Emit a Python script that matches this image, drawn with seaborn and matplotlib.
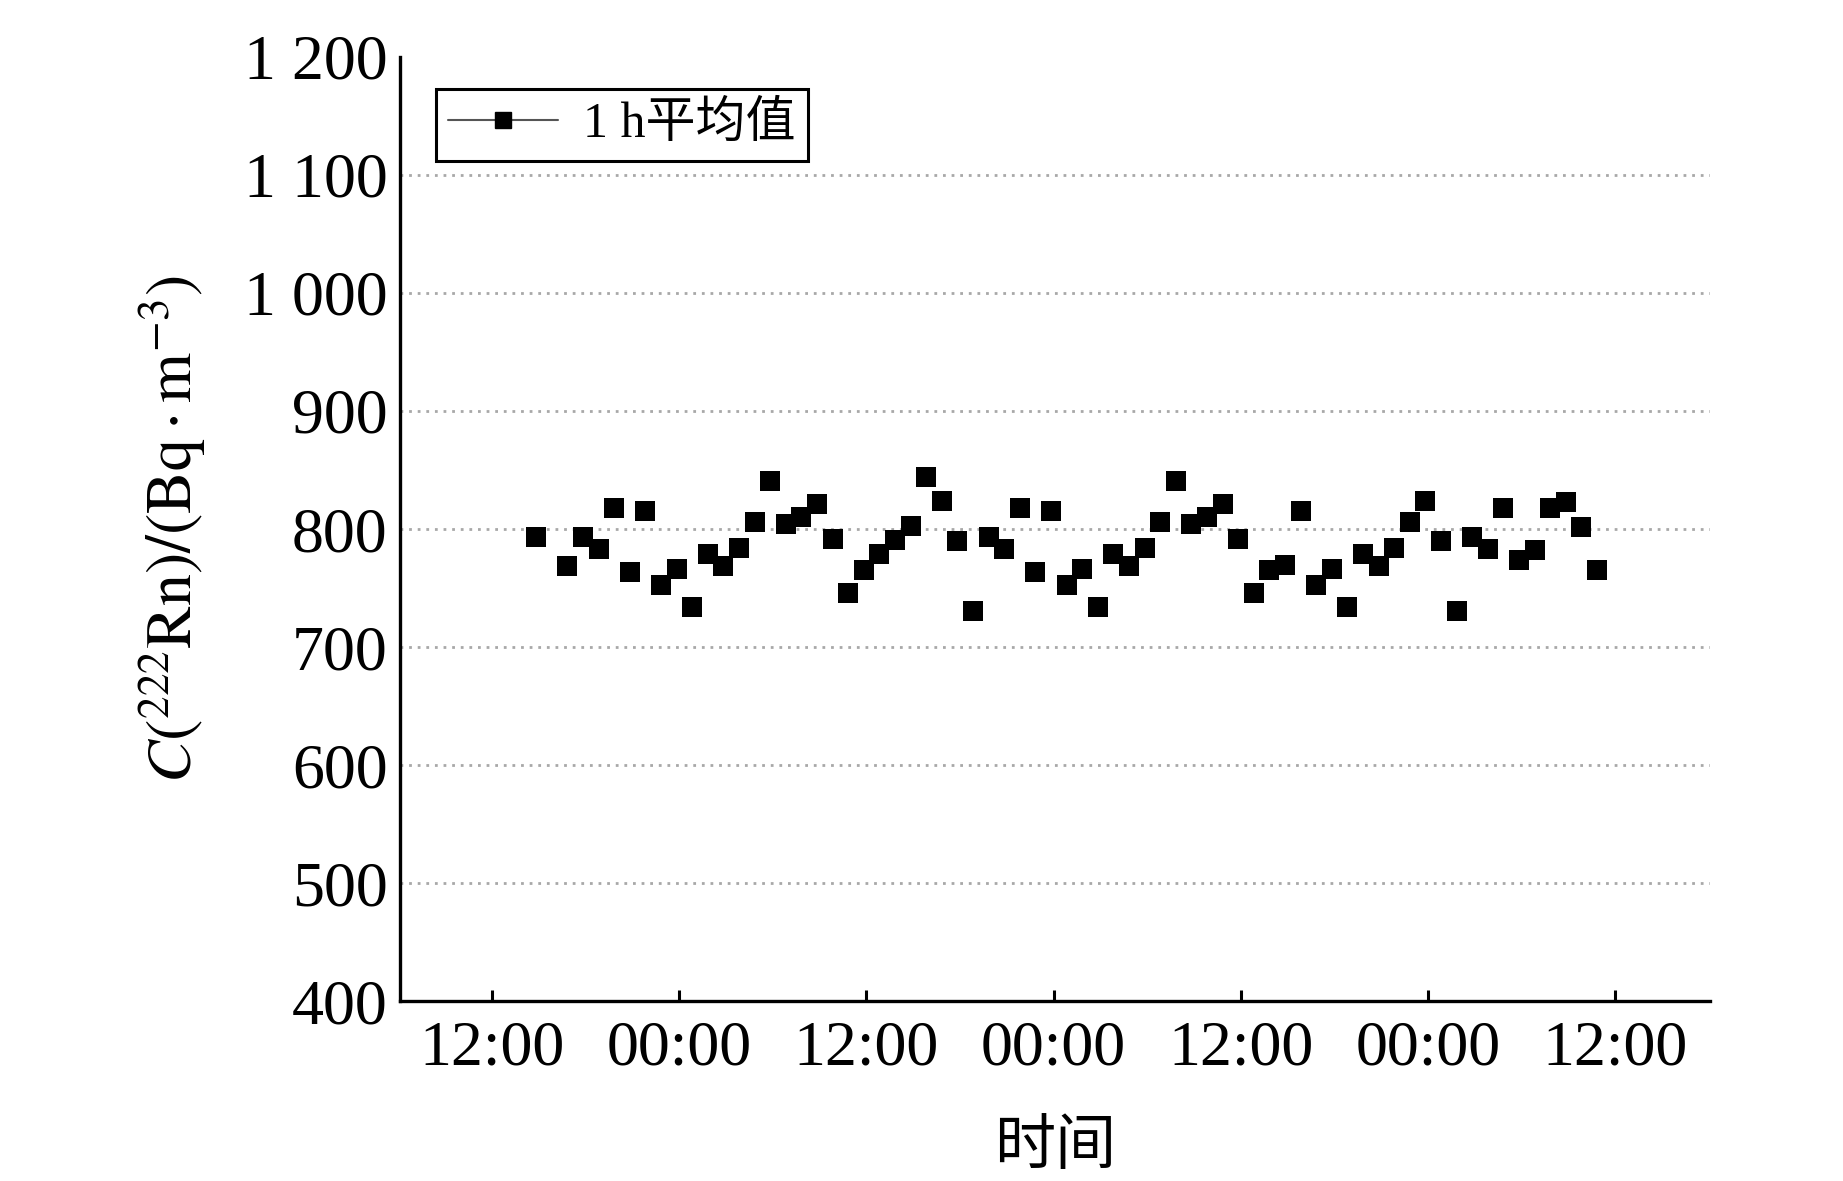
import numpy as np
import pandas as pd
import seaborn as sns
import matplotlib.pyplot as plt
import matplotlib.dates as mdates
from matplotlib.lines import Line2D

# 1 h 平均值, one reading per hour (15:50 on day one has no reading)
times = pd.date_range('2018-06-01 14:50', periods=69, freq='h')
conc = [793, np.nan, 769, 793, 783, 818, 764, 815, 753, 766, 734, 779, 769, 784, 806,
        841, 804, 810, 821, 792, 746, 765, 779, 791, 803, 844, 824, 790, 731,
        793, 783, 818, 764, 815, 753, 766, 734, 779, 769, 784, 806, 841, 804,
        810, 821, 792, 746, 765, 770, 815, 753, 766, 734, 779, 769, 784, 806,
        824, 790, 731, 793, 783, 818, 774, 782, 818, 823, 802, 765]
y_ticks = [400, 500, 600, 700, 800, 900, 1000, 1100, 1200]
y_ticklabels = ['400', '500', '600', '700', '800', '900', '1 000', '1 100', '1 200']

df = pd.DataFrame({'time': times, 'conc': conc}).dropna()

sns.set_style('white')
plt.rcParams['font.family'] = ['Liberation Serif', 'Noto Sans CJK SC']
plt.rcParams['mathtext.fontset'] = 'stix'
plt.rcParams['text.color'] = 'black'
plt.rcParams['axes.labelcolor'] = 'black'
plt.rcParams['xtick.color'] = 'black'
plt.rcParams['ytick.color'] = 'black'

fig = plt.figure(figsize=(18.43, 11.81), dpi=100)
ax = fig.add_axes([0.217, 0.152, 0.711, 0.800])

sns.scatterplot(data=df, x='time', y='conc', marker='s', s=225, color='black',
                linewidth=0, ax=ax, legend=False, zorder=3)

# 虚线网格
for yv in y_ticks[1:-1]:
    ax.axhline(yv, color='#a8a8a8', lw=2.0, ls=(0, (1, 2.1)), zorder=1)

ax.set_ylim(400, 1200)
ax.set_yticks(y_ticks)
ax.set_yticklabels(y_ticklabels)
ax.set_yticks([1200], minor=True)
ax.tick_params(axis='y', which='major', left=True, length=0, pad=9, labelsize=46,
               labelcolor='black')
ax.tick_params(axis='y', which='minor', left=True, direction='in', length=9, width=2.2,
               color='black')

t0 = pd.Timestamp('2018-06-01 12:00')
ax.set_xlim(t0 - pd.Timedelta(hours=5.9), t0 + pd.Timedelta(hours=78.1))
ax.xaxis.set_major_locator(mdates.HourLocator(byhour=[0, 12]))
ax.xaxis.set_major_formatter(mdates.DateFormatter('%H:%M'))
ax.tick_params(axis='x', which='major', bottom=True, direction='in', length=8, width=2.2,
               pad=14, labelsize=46, color='black', labelcolor='black')

for side in ['top', 'right']:
    ax.spines[side].set_visible(False)
for side in ['left', 'bottom']:
    ax.spines[side].set_linewidth(2.4)
    ax.spines[side].set_color('black')

ax.set_xlabel('时间', fontsize=44, labelpad=30, color='black')
ax.set_ylabel(r'$\mathit{C}(^{222}\mathrm{Rn})/(\mathrm{Bq}\cdot\mathrm{m}^{-3})$',
              fontsize=46, labelpad=26, color='black')

handle = Line2D([], [], color='#555555', lw=1.5, marker='s', markersize=11,
                markerfacecolor='black', markeredgecolor='black')
leg = ax.legend([handle], ['1 h平均值'], loc='upper left', bbox_to_anchor=(0.0275, 0.9655),
                borderaxespad=0, fontsize=36, frameon=True, fancybox=False, framealpha=1,
                handlelength=2.2, handletextpad=0.5, borderpad=0.25)
leg.get_frame().set_edgecolor('black')
leg.get_frame().set_linewidth(2.2)
for t in leg.get_texts():
    t.set_color('black')

fig.savefig('out.png', dpi=100)
